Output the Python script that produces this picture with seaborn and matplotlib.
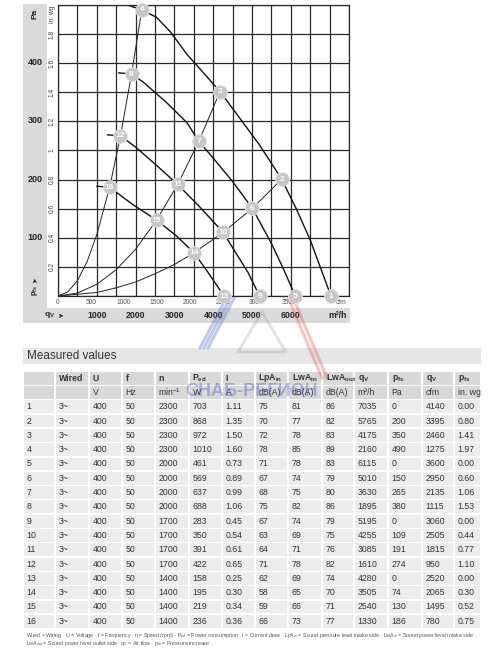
import matplotlib
matplotlib.use('Agg')
import matplotlib.pyplot as plt
import matplotlib.transforms as mtransforms
from matplotlib.patches import Rectangle
import pandas as pd
import seaborn as sns

sns.set_theme(style='white')
plt.rcParams['font.family'] = ['Liberation Sans', 'DejaVu Sans']
plt.rcParams['mathtext.default'] = 'regular'

# measured values (table)
point_no = list(range(1, 17))
wired = ['3~'] * 16
voltage = [400] * 16
freq = [50] * 16
speed = [2300] * 4 + [2000] * 4 + [1700] * 4 + [1400] * 4
p_ed = [703, 868, 972, 1010, 461, 569, 637, 688, 283, 350, 391, 422, 158, 195, 219, 236]
current = ['1.11', '1.35', '1.50', '1.60', '0.73', '0.89', '0.99', '1.06',
           '0.45', '0.54', '0.61', '0.65', '0.25', '0.30', '0.34', '0.36']
lpa_in = [75, 70, 72, 78, 71, 67, 68, 75, 67, 63, 64, 71, 62, 58, 59, 66]
lwa_in = [81, 77, 78, 85, 78, 74, 75, 82, 74, 69, 71, 78, 69, 65, 66, 73]
lwa_out = [86, 82, 83, 89, 83, 79, 80, 86, 79, 75, 76, 82, 74, 70, 71, 77]
qv_m3h = [7035, 5765, 4175, 2160, 6115, 5010, 3630, 1895, 5195, 4255, 3085, 1610, 4280, 3505, 2540, 1330]
psf_pa = [0, 200, 350, 490, 0, 150, 265, 380, 0, 109, 191, 274, 0, 74, 130, 186]
qv_cfm = [4140, 3395, 2460, 1275, 3600, 2950, 2135, 1115, 3060, 2505, 1815, 950, 2520, 2065, 1495, 780]
psf_inwg = ['0.00', '0.80', '1.41', '1.97', '0.00', '0.60', '1.06', '1.53',
            '0.00', '0.44', '0.77', '1.10', '0.00', '0.30', '0.52', '0.75']

# fan curves (m3/h, Pa)
fan_2300_q = [1840, 2160, 2540, 2900, 3320, 3750, 4175, 4600, 5200, 5765, 6150, 6500, 7035]
fan_2300_p = [497, 490, 477, 452, 414, 382, 350, 312, 258, 200, 148, 96, 0]
fan_2000_q = [1560, 1895, 2200, 2800, 3320, 3630, 4000, 4500, 5010, 5500, 5820, 6115]
fan_2000_p = [382, 380, 366, 331, 297, 265, 236, 196, 150, 90, 45, 0]
fan_1700_q = [1270, 1610, 2000, 2550, 3085, 3660, 4255, 4600, 4900, 5195]
fan_1700_p = [276, 274, 255, 223, 191, 152, 109, 72, 40, 0]
fan_1400_q = [1000, 1330, 1940, 2540, 3050, 3505, 3850, 4280]
fan_1400_p = [188, 186, 156, 130, 103, 74, 42, 0]

# system curves
sys_a_q = [0, 250, 500, 750, 1000, 1330, 1610, 1895, 2160]
sys_a_p = [0, 7, 26, 59, 105, 186, 274, 380, 490]
sys_b_q = [0, 500, 1000, 1500, 2000, 2540, 3085, 3630, 4175]
sys_b_p = [0, 5, 20, 45, 80, 130, 191, 265, 350]
sys_c_q = [0, 1000, 1500, 2000, 2500, 3000, 3505, 4255, 5010, 5765]
sys_c_p = [0, 6, 14, 24, 38, 54, 74, 109, 150, 200]

# axis labels
grid_m3h = list(range(0, 7501, 500))
grid_inwg = [0.0, 0.2, 0.4, 0.6, 0.8, 1.0, 1.2, 1.4, 1.6, 1.8, 2.0]
inwg_labels = ['0.2', '0.4', '0.6', '0.8', '1', '1.2', '1.4', '1.6', '1.8']
pa_labels = [100, 200, 300, 400]
m3h_labels = [1000, 2000, 3000, 4000, 5000, 6000]
cfm_labels = [0, 500, 1000, 1500, 2000, 2500, 3000, 3500]

PA_PER_INWG = 249.089
M3H_PER_CFM = 1.699
ARROW = '\u27a4'

fig = plt.figure(figsize=(5, 6.5), dpi=100)

# background / page axes in pixel units
bg = fig.add_axes([0, 0, 1, 1])
bg.set_xlim(0, 500)
bg.set_ylim(650, 0)
bg.axis('off')

panel = '#dadada'
bg.add_patch(Rectangle((23, 4), 24, 319, color=panel, lw=0))
bg.add_patch(Rectangle((23, 308), 327, 15, color=panel, lw=0))

# chart axes
ax = fig.add_axes([58 / 500, 1 - 296 / 650, 291 / 500, 291 / 650])
ax.set_zorder(2)
ax.set_facecolor('white')

for q, p in [(fan_2300_q, fan_2300_p), (fan_2000_q, fan_2000_p),
             (fan_1700_q, fan_1700_p), (fan_1400_q, fan_1400_p)]:
    df = pd.DataFrame({'q': q, 'p': p})
    sns.lineplot(data=df, x='q', y='p', sort=False, estimator=None,
                 color='#111111', lw=1.0, ax=ax)
for q, p in [(sys_a_q, sys_a_p), (sys_b_q, sys_b_p), (sys_c_q, sys_c_p)]:
    df = pd.DataFrame({'q': q, 'p': p})
    sns.lineplot(data=df, x='q', y='p', sort=False, estimator=None,
                 color='#222222', lw=0.7, ax=ax)

pts = pd.DataFrame({'q': qv_m3h, 'p': psf_pa, 'no': point_no})
sns.scatterplot(data=pts, x='q', y='p', s=100, color='#c6c6c6',
                edgecolor='#e4e4e4', linewidth=0.6, zorder=5, ax=ax)
ax.collections[-1].set_clip_on(False)
for _, r in pts.iterrows():
    ax.text(r['q'], r['p'], str(r['no']), ha='center', va='center',
            color='white', fontsize=6, fontweight='bold', zorder=6, clip_on=False)

ax.set_xlim(0, 7500)
ax.set_ylim(0, 2.0 * PA_PER_INWG)
ax.set_xticks(grid_m3h)
ax.set_yticks([v * PA_PER_INWG for v in grid_inwg])
ax.set_xticklabels([])
ax.set_yticklabels([])
ax.tick_params(length=0)
ax.grid(True, color='#2a2a2a', lw=0.9)
ax.set_xlabel('')
ax.set_ylabel('')
for s in ax.spines.values():
    s.set_color('#2a2a2a')
    s.set_linewidth(0.9)

# left labels
ty = mtransforms.blended_transform_factory(bg.transData, ax.transData)
for v in pa_labels:
    bg.text(35, v, str(v), transform=ty, ha='center', va='center',
            fontsize=6.5, fontweight='bold', color='#222')
for v, lab in zip(grid_inwg[1:-1], inwg_labels):
    bg.text(52.5, v * PA_PER_INWG, lab, transform=ty, ha='center', va='center',
            rotation=90, fontsize=4.8, color='#444')
bg.text(35, 14, 'Pa', ha='center', va='center', rotation=90,
        fontsize=6, fontweight='bold', color='#222')
bg.text(52.5, 14, 'in. wg', ha='center', va='center', rotation=90,
        fontsize=4.8, color='#444')
bg.text(35, 290, 'p$_{fs}$', ha='center', va='center', rotation=90,
        fontsize=5.5, fontweight='bold', color='#222')
bg.text(35, 280, ARROW, ha='center', va='center', rotation=90,
        fontsize=5, color='#222', family='DejaVu Sans')

# bottom labels
tx = mtransforms.blended_transform_factory(ax.transData, bg.transData)
for v in cfm_labels:
    bg.text(v * M3H_PER_CFM, 302, str(v), transform=tx, ha='center', va='center',
            fontsize=4.8, color='#555')
bg.text(341, 303, 'cfm', ha='center', va='center', fontsize=4.8, color='#555')
for v in m3h_labels:
    bg.text(v, 315.5, str(v), transform=tx, ha='center', va='center',
            fontsize=6.3, fontweight='bold', color='#222')
bg.text(338, 315.5, 'm\u00b3/h', ha='center', va='center',
        fontsize=6.3, fontweight='bold', color='#222')
bg.text(50, 315.5, 'q$_V$', ha='center', va='center',
        fontsize=6, fontweight='bold', color='#222')
bg.text(60, 315.5, ARROW, ha='center', va='center',
        fontsize=5, color='#222', family='DejaVu Sans')

# watermark
for dx in (0, 4, 8):
    bg.plot([262 + dx, 200 + dx], [230, 348], color='#4a64c8', lw=2.2, alpha=0.35, zorder=3)
for dx in (0, 5):
    bg.plot([268 + dx, 322 + dx], [250, 378], color='#d84040', lw=2.2, alpha=0.3, zorder=3)
bg.plot([238, 262, 286, 238], [352, 312, 352, 352], color='#9a9ab0', lw=2, alpha=0.3, zorder=3)

# table section
bg.add_patch(Rectangle((23, 348), 458, 16, color='#e6e6e6', lw=0))
bg.text(27, 356, 'Measured values', ha='left', va='center', fontsize=8.5, color='#333')

col_edges = [23, 55, 89, 122, 155, 189, 222, 255, 288, 322, 354, 388, 422, 454, 481]
head1 = ['', 'Wired', 'U', 'f', 'n', 'P$_{ed}$', 'I', 'LpA$_{in}$', 'LwA$_{in}$',
         'LwA$_{out}$', 'q$_V$', 'p$_{fs}$', 'q$_V$', 'p$_{fs}$']
head2 = ['', '', 'V', 'Hz', 'min$^{-1}$', 'W', 'A', 'dB(A)', 'dB(A)', 'dB(A)',
         'm\u00b3/h', 'Pa', 'cfm', 'in. wg']
rows = [head1, head2]
for i in range(16):
    rows.append([str(point_no[i]), wired[i], str(voltage[i]), str(freq[i]), str(speed[i]),
                 str(p_ed[i]), current[i], str(lpa_in[i]), str(lwa_in[i]), str(lwa_out[i]),
                 str(qv_m3h[i]), str(psf_pa[i]), str(qv_cfm[i]), psf_inwg[i]])

row_top = 371.0
row_h = 14.3
for r, row in enumerate(rows):
    y0 = row_top + r * row_h
    fc = '#d9d9d9' if r < 2 else '#ececec'
    for c, txt in enumerate(row):
        x0, x1 = col_edges[c], col_edges[c + 1]
        bg.add_patch(Rectangle((x0 + 0.7, y0 + 0.7), x1 - x0 - 1.4, row_h - 1.4,
                               color=fc, lw=0))
        bg.text(x0 + 3.5, y0 + row_h / 2, txt, ha='left', va='center',
                fontsize=6.3, color='#333',
                fontweight='bold' if r == 0 else 'normal')

bg.text(252, 392, '\u0421\u041d\u0410\u0411-\u0420\u0415\u0413\u0418\u041e\u041d',
        ha='center', va='center', fontsize=13, fontweight='bold',
        color='#4a5ab8', alpha=0.4, zorder=4)

note1 = ('Wired = Wiring \u00b7 U = Voltage \u00b7 f = Frequency \u00b7 n = Speed (rpm) \u00b7 '
         'P$_{ed}$ = Power consumption \u00b7 I = Current draw \u00b7 LpA$_{in}$ = Sound pressure '
         'level intake side \u00b7 LwA$_{in}$ = Sound power level intake side')
note2 = ('LwA$_{out}$ = Sound power level outlet side \u00b7 q$_V$ = Air flow \u00b7 '
         'p$_{fs}$ = Pressure increase')
bg.text(26, 635, note1, ha='left', va='center', fontsize=3.75, color='#555')
bg.text(26, 644, note2, ha='left', va='center', fontsize=3.75, color='#555')

fig.savefig('out.png', dpi=100)
